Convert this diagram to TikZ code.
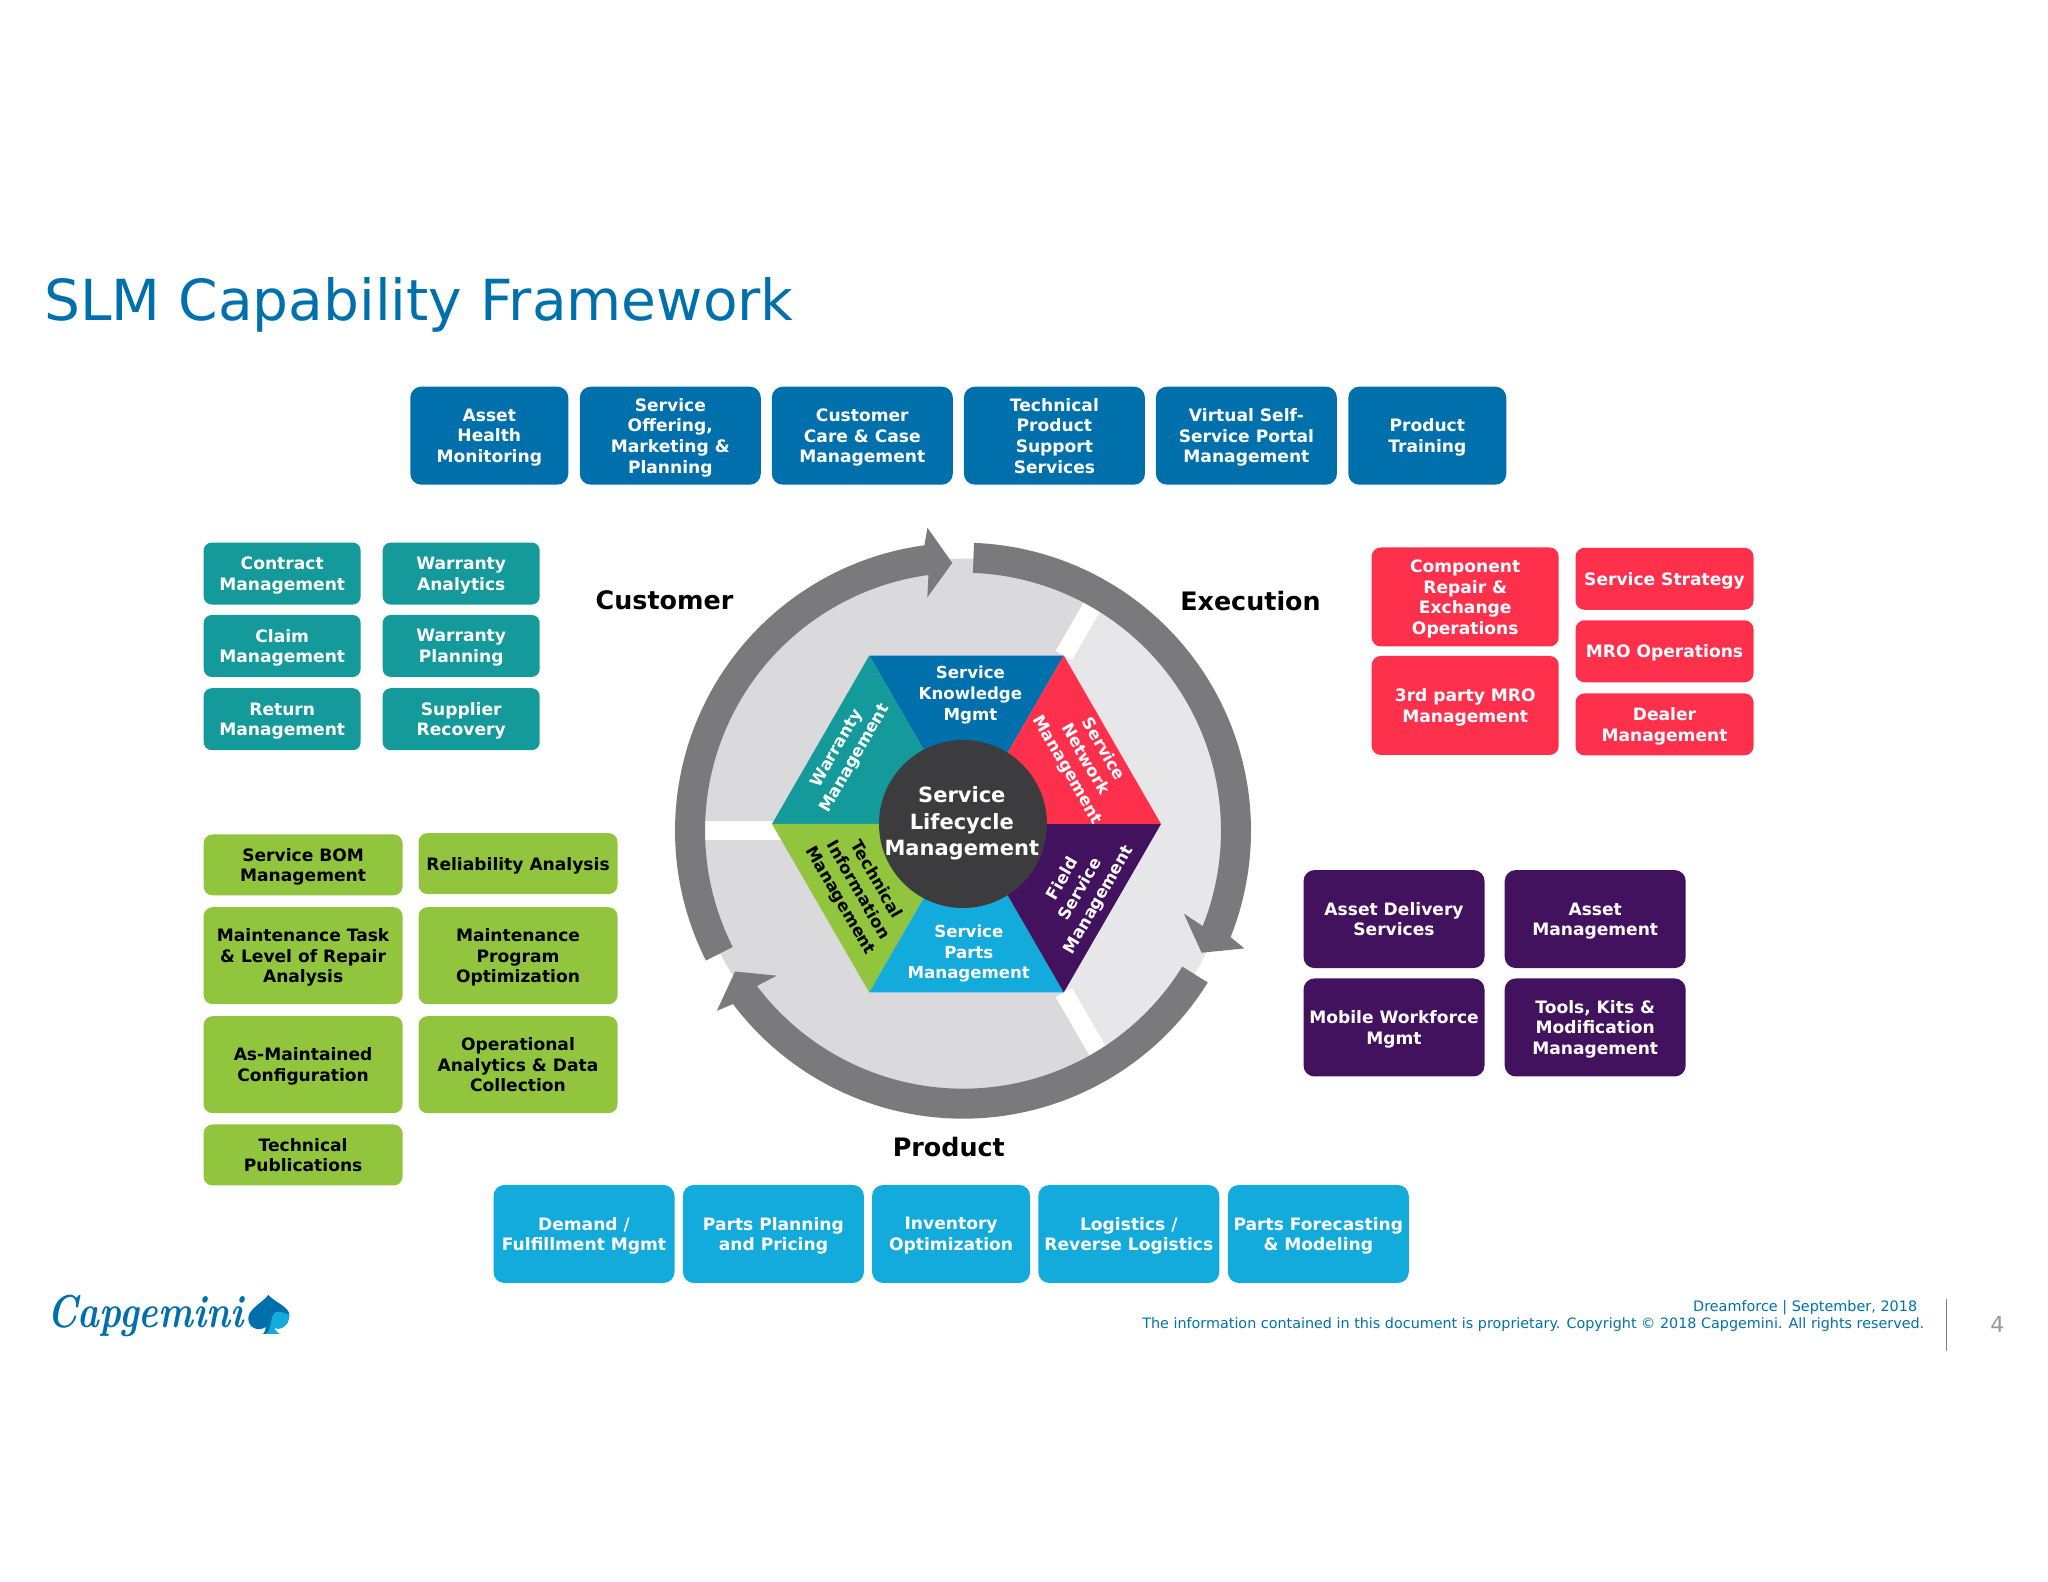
\documentclass[tikz,border=0pt]{standalone}
\usepackage{fontspec}
\setsansfont{DejaVu Sans}
\definecolor{slmblue}{HTML}{0070AD}
\definecolor{slmsky}{HTML}{12ABDB}
\definecolor{slmteal}{HTML}{149A9A}
\definecolor{slmgreen}{HTML}{92C53E}
\definecolor{slmred}{HTML}{FF304C}
\definecolor{slmpurple}{HTML}{43125F}
\definecolor{slmring}{HTML}{7A7A7D}
\definecolor{slmdisc}{HTML}{DADADD}
\definecolor{slmpale}{HTML}{E7E7E9}
\definecolor{slmdark}{HTML}{3C3C3E}
\newcommand{\ringarrow}[5]{%
  \fill[slmring] (#1:288) arc[start angle=#1,end angle=#2,radius=288]
    -- (#3:305) -- (#4:268) -- (#5:236) -- (#2:258)
    arc[start angle=#2,end angle=#1,radius=258] -- cycle;}
\begin{document}
\begin{tikzpicture}[x=0.5pt, y=0.5pt,
    every node/.style ={font=\sffamily},
    box/.style ={rounded corners=5.5pt, inner sep=0pt, align=center, text=white, text depth=0pt,
      font=\sffamily\bfseries\fontsize{8.55}{10.3}\selectfont},
    topbox/.style ={box, fill=slmblue, minimum height=49pt},
    tealbox/.style ={box, fill=slmteal, rounded corners=4pt, minimum width=78.5pt, minimum height=31pt},
    redbox/.style ={box, fill=slmred, rounded corners=4.5pt},
    greenbox/.style ={box, fill=slmgreen, text=black, rounded corners=4.5pt, minimum width=99.5pt},
    purplebox/.style ={box, fill=slmpurple, minimum width=90.5pt, minimum height=49pt},
    skybox/.style ={box, fill=slmsky, minimum height=49pt},
    heading/.style ={font=\sffamily\bfseries\fontsize{12.7}{15}\selectfont},
    hextext/.style ={align=center, inner sep=0pt, text=white,
      font=\sffamily\bfseries\fontsize{8.3}{10.3}\selectfont}]
   \useasboundingbox (0,0) rectangle (2048,1582);

   \node[anchor=west, text=slmblue, inner sep=0pt, font=\sffamily\fontsize{28.3}{32}\selectfont] (title) at (44,1277) {SLM Capability Framework};

   \node[topbox, minimum width=79pt] (asset) at (489.3,1146.3) {Asset\\Health\\Monitoring};
   \node[topbox, minimum width=90.5pt] (offering) at (670.3,1146.3) {Service\\Offering,\\Marketing \&\\Planning};
   \node[topbox, minimum width=90.5pt] (care) at (862.3,1146.3) {Customer\\Care \& Case\\Management};
   \node[topbox, minimum width=90.5pt] (support) at (1054.4,1146.3) {Technical\\Product\\Support\\Services};
   \node[topbox, minimum width=90.5pt] (portal) at (1246.4,1146.3) {Virtual Self-\\Service Portal\\Management};
   \node[topbox, minimum width=79pt] (training) at (1427.3,1146.3) {Product\\Training};

   \node[tealbox] (contract) at (282.2,1008.4) {Contract\\Management};
   \node[tealbox] (analytics) at (461.2,1008.4) {Warranty\\Analytics};
   \node[tealbox] (claim) at (282.2,936) {Claim\\Management};
   \node[tealbox] (planning) at (461.2,936) {Warranty\\Planning};
   \node[tealbox] (return) at (282.2,862.8) {Return\\Management};
   \node[tealbox] (recovery) at (461.2,862.8) {Supplier\\Recovery};

   \node[redbox, minimum width=93.5pt, minimum height=49.5pt] (repair) at (1465.2,985) {Component\\Repair \&\\Exchange\\Operations};
   \node[redbox, minimum width=93.5pt, minimum height=49.5pt] (party) at (1465.2,876.5) {3rd party MRO\\Management};
   \node[redbox, minimum width=89pt, minimum height=31pt] (strategy) at (1664.5,1003.2) {Service Strategy};
   \node[redbox, minimum width=89pt, minimum height=31pt] (mro) at (1664.5,930.7) {MRO Operations};
   \node[redbox, minimum width=89pt, minimum height=31pt] (dealer) at (1664.5,857.6) {Dealer\\Management};

   \node[greenbox, minimum height=30.5pt] (bom) at (303.1,717.1) {Service BOM\\Management};
   \node[greenbox, minimum height=48.5pt] (task) at (303.1,626.3) {Maintenance Task\\\& Level of Repair\\Analysis};
   \node[greenbox, minimum height=48.5pt] (maintained) at (303.1,517.3) {As-Maintained\\Configuration};
   \node[greenbox, minimum height=30.5pt] (publications) at (303.1,427) {Technical\\Publications};
   \node[greenbox, minimum height=30.5pt] (reliability) at (518,718.4) {Reliability Analysis};
   \node[greenbox, minimum height=48.5pt] (program) at (518,626.3) {Maintenance\\Program\\Optimization};
   \node[greenbox, minimum height=48.5pt] (operational) at (518,517.3) {Operational\\Analytics \& Data\\Collection};

   \node[purplebox] (delivery) at (1394,662.9) {Asset Delivery\\Services};
   \node[purplebox] (assetmgmt) at (1595.2,662.9) {Asset\\Management};
   \node[purplebox] (mobile) at (1394,554.5) {Mobile Workforce\\Mgmt};
   \node[purplebox] (tools) at (1595.2,554.5) {Tools, Kits \&\\Modification\\Management};

   \node[skybox, minimum width=90.5pt] (demand) at (584,348) {Demand /\\Fulfillment Mgmt};
   \node[skybox, minimum width=90.5pt] (parts) at (773.4,348) {Parts Planning\\and Pricing};
   \node[skybox, minimum width=79pt] (inventory) at (951.1,348) {Inventory\\Optimization};
   \node[skybox, minimum width=90.5pt] (logistics) at (1128.8,348) {Logistics /\\Reverse Logistics};
   \node[skybox, minimum width=90.5pt] (forecast) at (1318.3,348) {Parts Forecasting\\\& Modeling};

   \fill[slmdisc] (963,751.3) circle (272);
   \begin{scope}
      \clip (963,751.3) circle (272);
      \fill[slmpale, shift={(966.5,758)}] (0,0) -- (-60:500) -- (0:1000) -- (60:500) -- cycle;
   \end{scope}
   \begin{scope}[shift={(966.5,758)}]
      \foreach \a in {0,60,...,300} {\coordinate (h\a) at (\a:194.5);}
      \coordinate (hc) at (0,0);
      \coordinate (w60) at (60:330);
      \coordinate (w300) at (300:330);
   \end{scope}
   \coordinate (w0) at (963,751.3);
   \coordinate (w180) at (640,751.3);
   \draw[white, line width=9.3pt] (h60) -- (w60);
   \draw[white, line width=9.3pt] (w0) -- (w180);
   \draw[white, line width=9.3pt] (h300) -- (w300);
   \begin{scope}[shift={(963,751.3)}]
      \ringarrow{206.8}{97.7}{96.7}{92.3}{98.7}
      \ringarrow{87.8}{-21.7}{-22.7}{-27.1}{-20.6}
      \ringarrow{-31.8}{-143}{-143.8}{-148.3}{-142.1}
   \end{scope}

   \fill[slmblue] (hc) -- (h60) -- (h120) -- cycle;
   \fill[slmteal] (hc) -- (h120) -- (h180) -- cycle;
   \fill[slmgreen] (hc) -- (h180) -- (h240) -- cycle;
   \fill[slmsky] (hc) -- (h240) -- (h300) -- cycle;
   \fill[slmpurple] (hc) -- (h300) -- (h0) -- cycle;
   \fill[slmred] (hc) -- (h0) -- (h60) -- cycle;
   \node[circle, fill=slmdark, inner sep=0pt, minimum size=84pt] (hub) at (963,758) {};
   \node[align=center, inner sep=0pt, text=white, font=\sffamily\bfseries\fontsize{10.5}{13.1}\selectfont] (hubtext) at (961.8,758.6) {Service\\Lifecycle\\Management};

   \node[hextext] (knowledge) at (970.4,887) {Service\\Knowledge\\Mgmt};
   \node[hextext] (spares) at (968.8,628.2) {Service\\Parts\\Management};
   \node[hextext, rotate=60] (warranty) at (846.2,828.4) {Warranty\\Management};
   \node[hextext, rotate=-60] (network) at (1085,822.1) {Service\\Network\\Management};
   \node[hextext, rotate=60] (field) at (1081.1,692.4) {Field\\Service\\Management};
   \node[hextext, rotate=-60, text=black] (technical) at (857.7,691.6) {Technical\\Information\\Management};

   \node[heading] (customer) at (664.5,981.4) {Customer};
   \node[heading] (execution) at (1250.5,981.4) {Execution};
   \node[heading] (product) at (948.8,434.6) {Product};

   \node[inner sep=0pt, text=slmblue, font=\rmfamily\bfseries\itshape\fontsize{20}{24}\selectfont, anchor=base west] (logo) at (47,254) {\scalebox{0.92}[1.15]{Capgemini}};
   \fill[slmblue] (268.3,287) .. controls (262,279) and (248.3,273) .. (248.3,263.7)
      .. controls (248.3,254) and (258,250) .. (266,255)
      .. controls (266,252) and (264,249) .. (263,248) -- (279.3,248)
      .. controls (276,250) and (275,252) .. (274,254.5)
      .. controls (280,251) and (289.3,256) .. (289.3,267)
      .. controls (289.3,275) and (276,279) .. (268.3,287) -- cycle;
   \fill[slmsky] (289.3,267) .. controls (289.3,256) and (280,251) .. (274,254.5)
      .. controls (275,252) and (276,250) .. (279.3,248) -- (266,248)
      .. controls (274,254) and (268,272) .. (280,270)
      .. controls (284,269.5) and (288,268) .. (289.3,267) -- cycle;

   \node[anchor=east, inner sep=0pt, text=slmblue, font=\sffamily\fontsize{7.2}{8}\selectfont] (footdate) at (1917.6,274.2) {Dreamforce | September, 2018};
   \node[anchor=east, inner sep=0pt, text=slmblue, font=\sffamily\fontsize{7.17}{8}\selectfont] (footnote) at (1924.6,257.5) {The information contained in this document is proprietary. Copyright © 2018 Capgemini. All rights reserved.};
   \coordinate (ruletop) at (1946.5,283);
   \coordinate (rulebottom) at (1946.5,231);
   \draw[gray, line width=0.7pt] (ruletop) -- (rulebottom);
   \node[text=gray!80, inner sep=0pt, font=\sffamily\fontsize{11}{13}\selectfont] (pagenum) at (1997.4,257.5) {4};
\end{tikzpicture}
\end{document}
